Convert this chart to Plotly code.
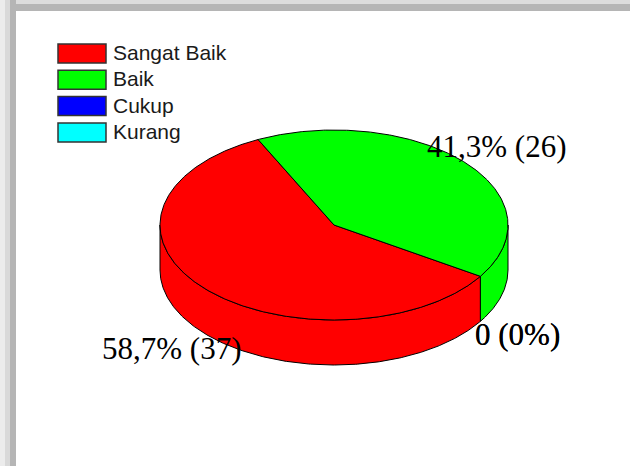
import numpy as np
import plotly.graph_objects as go

# data
CATEGORIES = ['Sangat Baik', 'Baik', 'Cukup', 'Kurang']
COUNTS = [37, 26, 0, 0]
COLORS = ['#ff0000', '#00ff00', '#0000ff', '#00ffff']

# canvas (pixel-like axis units)
W, H = 630, 466

# 3D pie geometry
CX, CY = 334, 225        # centre of top face
RX, RY = 174, 95         # top ellipse radii
DEPTH = 45               # thickness of the pie
START_DEG = 327.3        # first slice starts here, slices go clockwise
LABEL_K = 1.25           # label distance, relative to the radii

LABEL_FONT = dict(family='Liberation Serif, Times New Roman, serif', size=31, color='black')
LEGEND_FONT = dict(family='Liberation Sans, Arial, sans-serif', size=21, color='#1a1a1a')


def ellipse_arc(t0, t1, dy=0):
    n = max(2, int(abs(t1 - t0) * 2) + 1)
    t = np.radians(np.linspace(t0, t1, n))
    return CX + RX * np.cos(t), CY - RY * np.sin(t) + dy


def slice_label(v, total):
    if v == 0:
        return '0 (0%)'
    pct = f"{100 * v / total:.1f}".replace('.', ',')
    return f"{pct}% ({v})"


total = sum(COUNTS)

# angular span of every slice (clockwise from START_DEG)
spans = []
a0 = START_DEG
for v in COUNTS:
    a1 = a0 - 360 * v / total
    spans.append((a1, a0))
    a0 = a1

fig = go.Figure()

# side walls: only the front half (180..360 deg) is visible
for (lo, hi), v, col in zip(spans, COUNTS, COLORS):
    if v == 0:
        continue
    for k in range(-2, 3):
        f0, f1 = 180 + 360 * k, 360 + 360 * k
        s0, s1 = max(lo, f0), min(hi, f1)
        if s1 <= s0:
            continue
        xt, yt = ellipse_arc(s0, s1)
        xb, yb = ellipse_arc(s1, s0, DEPTH)
        fig.add_trace(go.Scatter(
            x=np.concatenate([xt, xb, xt[:1]]),
            y=np.concatenate([yt, yb, yt[:1]]),
            mode='lines', fill='toself', fillcolor=col,
            line=dict(color='black', width=1),
            hoverinfo='skip', showlegend=False
        ))

# top faces
for (lo, hi), v, col, name in zip(spans, COUNTS, COLORS, CATEGORIES):
    if v == 0:
        continue
    xa, ya = ellipse_arc(hi, lo)
    fig.add_trace(go.Scatter(
        x=np.concatenate([[CX], xa, [CX]]),
        y=np.concatenate([[CY], ya, [CY]]),
        mode='lines', fill='toself', fillcolor=col,
        line=dict(color='black', width=1),
        name=name, hoverinfo='name', showlegend=False
    ))

# slice labels
annotations = []
for (lo, hi), v in zip(spans, COUNTS):
    mid = np.radians((lo + hi) / 2)
    lx = CX + RX * LABEL_K * np.cos(mid)
    ly = CY - RY * LABEL_K * np.sin(mid)
    if np.sin(mid) < 0:
        ly += DEPTH
    annotations.append(dict(
        x=lx, y=ly, xref='x', yref='y', text=slice_label(v, total),
        showarrow=False, xanchor='center', yanchor='middle', font=LABEL_FONT
    ))

# legend drawn by hand
shapes = []
LEG_X0, LEG_X1 = 58, 106
LEG_TOP, LEG_H, LEG_STEP = 44, 19, 26.3
for i, (name, col) in enumerate(zip(CATEGORIES, COLORS)):
    y0 = LEG_TOP + i * LEG_STEP
    shapes.append(dict(type='rect', xref='x', yref='y',
                       x0=LEG_X0, x1=LEG_X1, y0=y0, y1=y0 + LEG_H,
                       fillcolor=col, line=dict(color='#333333', width=1.5)))
    annotations.append(dict(
        x=LEG_X1 + 5, y=y0 + LEG_H / 2 - 1, xref='x', yref='y', text=name,
        showarrow=False, xanchor='left', yanchor='middle', font=LEGEND_FONT
    ))

# grey window frame (top and left)
frame = [
    (0, W, 0, 4, '#dcdcdc'),
    (0, W, 4, 11, '#b5b5b5'),
    (0, 5, 0, H, '#ececec'),
    (5, 10, 0, H, '#d9d9d9'),
    (10, 16, 0, H, '#b5b5b5'),
]
for x0, x1, y0, y1, c in frame:
    shapes.append(dict(type='rect', xref='x', yref='y', x0=x0, x1=x1, y0=y0, y1=y1,
                       fillcolor=c, line=dict(width=0), layer='above'))

fig.update_layout(
    width=W, height=H,
    margin=dict(l=0, r=0, t=0, b=0),
    paper_bgcolor='white', plot_bgcolor='white',
    xaxis=dict(range=[0, W], visible=False, fixedrange=True),
    yaxis=dict(range=[H, 0], visible=False, fixedrange=True),
    shapes=shapes,
    annotations=annotations,
    showlegend=False
)

# drop the browser's default page margin so the figure sits at the window corner
fig.write_html("out.html", post_script="document.body.style.margin='0';",
               config={'displayModeBar': False})
